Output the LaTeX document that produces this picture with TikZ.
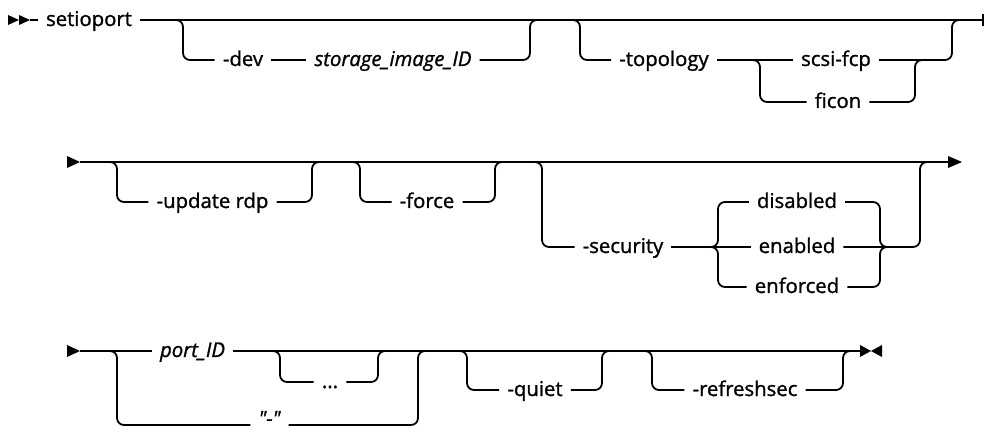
\documentclass[tikz,border=0pt]{standalone}
\usepackage{fontspec}
\setmainfont{Open Sans}
\newfontfamily\rrfam[FakeBold=1.2]{Open Sans}
\newcommand\rrfont{\rrfam\fontsize{20.3}{24}\selectfont}
\tikzset{
  rail/.style={line width=1.8pt, rounded corners=7pt},
  kw/.style={font=\rrfont, inner xsep=8pt, inner ysep=0pt, anchor=base},
  var/.style={kw, font=\rrfont\itshape},
  tip/.style={fill=black, draw=none},
}
\begin{document}
\begin{tikzpicture}[x=1pt,y=-1pt]
\useasboundingbox (0,0) rectangle (985,427);

% ---------------- Row 1 ----------------
\fill[tip] (8,15) -- (19,20) -- (8,25) -- cycle;
\fill[tip] (19,15) -- (30,20) -- (19,25) -- cycle;
\node[kw] (setio) at (89,26) {setioport};
\draw[rail] (30,20) -- (setio.west |- 0,20);
\draw[rail] (setio.east |- 0,20) -- (983,20);
\draw[line width=1.8pt] (983,14) -- (983,26);

\node[kw]  (dev)  at (243,66) {-dev};
\node[var] (stor) at (393,66) {storage\_image\_ID};
\draw[rail] (176,20) -| (183,60) -- (dev.west |- 0,60);
\draw[rail] (dev.east |- 0,60) -- (stor.west |- 0,60);
\draw[rail] (stor.east |- 0,60) -| (530,20) -- (537,20);

\node[kw] (topo)  at (664,66) {-topology};
\node[kw] (scsi)  at (836,66) {scsi-fcp};
\node[kw] (ficon) at (838,108) {ficon};
\draw[rail] (573,20) -| (580,60) -- (topo.west |- 0,60);
\draw[rail] (topo.east |- 0,60) -- (scsi.west |- 0,60);
\draw[rail] (753,60) -| (760,102) -- (ficon.west |- 0,102);
\draw[rail] (scsi.east |- 0,60) -| (952,20) -- (959,20);
\draw[rail] (ficon.east |- 0,102) -| (915,60) -- (922,60);

% ---------------- Row 2 ----------------
\fill[tip] (67,156) -- (80,162) -- (67,168) -- cycle;
\draw[rail] (80,162) -- (950,162);
\fill[tip] (948,156) -- (962,162) -- (948,168) -- cycle;

\node[kw] (upd) at (212.5,208) {-update rdp};
\draw[rail] (110,162) -| (117,202) -- (upd.west |- 0,202);
\draw[rail] (upd.east |- 0,202) -| (312,162) -- (319,162);

\node[kw] (force) at (427,208) {-force};
\draw[rail] (353,162) -| (360,202) -- (force.west |- 0,202);
\draw[rail] (force.east |- 0,202) -| (495,162) -- (502,162);

\node[kw] (sec)  at (623,253) {-security};
\node[kw] (dis)  at (797,208) {disabled};
\node[kw] (enab) at (797,253) {enabled};
\node[kw] (enf)  at (797,293) {enforced};
\draw[rail] (535,162) -| (542,247) -- (sec.west |- 0,247);
\draw[rail] (sec.east |- 0,247) -- (enab.west |- 0,247);
\draw[rail] (706,247) -| (718,202) -- (dis.west |- 0,202);
\draw[rail] (706,247) -| (718,287) -- (enf.west |- 0,287);
\draw[rail] (dis.east |- 0,202) -| (880,247) -- (892,247);
\draw[rail] (enf.east |- 0,287) -| (880,247) -- (892,247);
\draw[rail] (enab.east |- 0,247) -| (920,162) -- (927,162);

% ---------------- Row 3 ----------------
\fill[tip] (67,345) -- (80,351) -- (67,357) -- cycle;
\node[var] (port) at (192.5,357) {port\_ID};
\node[var] (dash) at (269.5,425.5) {"-"};
\node[kw]  (dots) at (330,388) {...};
\draw[rail] (80,351) -- (port.west |- 0,351);
\draw[rail] (port.east |- 0,351) -- (860,351);
\draw[rail] (110,351) -| (117,425) -- (dash.west |- 0,425);
\draw[rail] (dash.east |- 0,425) -| (418,351) -- (425,351);
\draw[rail] (273,351) -| (280,382) -- (dots.west |- 0,382);
\draw[rail] (dots.east |- 0,382) -| (378,351) -- (385,351);

\node[kw] (quiet) at (535,396) {-quiet};
\draw[rail] (460,351) -| (467,390) -- (quiet.west |- 0,390);
\draw[rail] (quiet.east |- 0,390) -| (602,351) -- (609,351);

\node[kw] (refr) at (745,396) {-refreshsec};
\draw[rail] (645,351) -| (652,390) -- (refr.west |- 0,390);
\draw[rail] (refr.east |- 0,390) -| (843,351) -- (850,351);

\fill[tip] (860,345) -- (871,351) -- (860,357) -- cycle;
\fill[tip] (882,345) -- (871,351) -- (882,357) -- cycle;
\end{tikzpicture}
\end{document}
